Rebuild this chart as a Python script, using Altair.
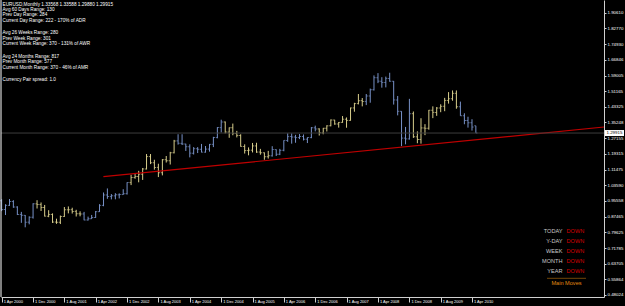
import altair as alt
import pandas as pd

# ---------------- data ----------------
months = []
for y in range(2000, 2011):
    for m in range(1, 13):
        if (y == 2000 and m < 4) or (y == 2010 and m > 5):
            continue
        months.append(f"{y}-{m:02d}-01")

opens = [0.9570,0.9125,0.9335,0.9530,0.9250,0.8875,0.8830,0.8485,0.8735,
 0.9410,0.9375,0.9230,0.8790,0.8875,0.8490,0.8480,0.8770,0.9110,0.9115,0.9030,0.8910,
 0.8900,0.8595,0.8660,0.8720,0.9015,0.9335,0.9860,0.9780,0.9815,0.9865,0.9880,0.9925,
 1.0485,1.0740,1.0790,1.0905,1.1175,1.1800,1.1490,1.1255,1.0985,1.1645,1.1590,1.1995,
 1.2595,1.2470,1.2440,1.2300,1.1975,1.2200,1.2170,1.2025,1.2180,1.2420,1.2760,1.3265,
 1.3550,1.3040,1.3255,1.2965,1.2870,1.2315,1.2105,1.2125,1.2340,1.2030,1.1995,1.1795,
 1.1840,1.2155,1.1925,1.2115,1.2620,1.2810,1.2790,1.2760,1.2815,1.2680,1.2760,1.3255,
 1.3200,1.3000,1.3230,1.3355,1.3650,1.3450,1.3530,1.3690,1.3630,1.4260,1.4480,1.4630,
 1.4590,1.4865,1.5185,1.5790,1.5615,1.5545,1.5755,1.5610,1.4665,1.4090,1.2735,1.2695,
 1.3970,1.2800,1.2665,1.3250,1.3230,1.4145,1.4035,1.4255,1.4340,1.4640,1.4725,1.5000,
 1.4320,1.3865,1.3625,1.3510,1.33568]

highs = [0.9645,0.9390,0.9655,0.9595,0.9290,0.9005,0.8845,0.8780,0.9440,
 0.9595,0.9480,0.9355,0.9090,0.8930,0.8660,0.8820,0.9250,0.9280,0.9215,0.9110,0.9035,
 0.9005,0.8765,0.8850,0.9050,0.9395,0.9985,1.0190,0.9905,0.9950,0.9940,1.0150,1.0500,
 1.0880,1.0935,1.1080,1.1225,1.1930,1.1930,1.1640,1.1440,1.1675,1.1830,1.2040,1.2645,
 1.2930,1.2930,1.2450,1.2420,1.2280,1.2280,1.2440,1.2335,1.2440,1.2800,1.3290,1.3665,
 1.3575,1.3275,1.3470,1.3100,1.2930,1.2420,1.2265,1.2490,1.2500,1.2190,1.2010,1.2090,
 1.2325,1.2165,1.2190,1.2625,1.2980,1.2975,1.2900,1.2940,1.2920,1.2775,1.3295,1.3365,
 1.3230,1.3250,1.3385,1.3680,1.3660,1.3550,1.3850,1.3780,1.4280,1.4520,1.4965,1.4760,
 1.4965,1.5240,1.5905,1.6020,1.5815,1.5845,1.6040,1.5625,1.4865,1.4095,1.3300,1.4720,
 1.4080,1.3075,1.3740,1.3440,1.4160,1.4340,1.4305,1.4445,1.4770,1.5060,1.5145,1.5145,
 1.4580,1.3990,1.3815,1.3690,1.33588]

lows = [0.9045,0.8845,0.9305,0.9210,0.8845,0.8450,0.8225,0.8375,0.8665,
 0.9175,0.9050,0.8770,0.8735,0.8445,0.8400,0.8390,0.8750,0.8930,0.8920,0.8770,0.8780,
 0.8580,0.8565,0.8645,0.8700,0.9005,0.9290,0.9665,0.9635,0.9640,0.9685,0.9870,0.9880,
 1.0360,1.0680,1.0500,1.0620,1.1150,1.1420,1.1140,1.0765,1.0850,1.1500,1.1400,1.1960,
 1.2405,1.2385,1.2085,1.1760,1.1905,1.1980,1.2010,1.2000,1.2050,1.2280,1.2725,1.3020,
 1.2975,1.2750,1.2880,1.2770,1.2300,1.1955,1.1865,1.2010,1.1990,1.1895,1.1640,1.1700,
 1.1800,1.1830,1.1875,1.2070,1.2545,1.2455,1.2500,1.2685,1.2615,1.2485,1.2730,1.3075,
 1.2865,1.2930,1.3070,1.3330,1.3410,1.3265,1.3510,1.3260,1.3615,1.4070,1.4440,1.4340,
 1.4405,1.4525,1.5140,1.5515,1.5285,1.5300,1.5585,1.4430,1.3885,1.2330,1.2420,1.2660,
 1.2745,1.2475,1.2455,1.2885,1.3160,1.3745,1.3860,1.4045,1.4095,1.4480,1.4625,1.4220,
 1.3860,1.3435,1.3265,1.3115,1.29880]

closes = [0.9125,0.9335,0.9530,0.9250,0.8875,0.8830,0.8485,0.8735,0.9410,
 0.9375,0.9230,0.8790,0.8875,0.8490,0.8480,0.8770,0.9110,0.9115,0.9030,0.8910,0.8900,
 0.8595,0.8660,0.8720,0.9015,0.9335,0.9860,0.9780,0.9815,0.9865,0.9880,0.9925,1.0485,
 1.0740,1.0790,1.0905,1.1175,1.1800,1.1490,1.1255,1.0985,1.1645,1.1590,1.1995,1.2595,
 1.2470,1.2440,1.2300,1.1975,1.2200,1.2170,1.2025,1.2180,1.2420,1.2760,1.3265,1.3550,
 1.3040,1.3255,1.2965,1.2870,1.2315,1.2105,1.2125,1.2340,1.2030,1.1995,1.1795,1.1840,
 1.2155,1.1925,1.2115,1.2620,1.2810,1.2790,1.2760,1.2815,1.2680,1.2760,1.3255,1.3200,
 1.3000,1.3230,1.3355,1.3650,1.3450,1.3530,1.3690,1.3630,1.4260,1.4480,1.4630,1.4590,
 1.4865,1.5185,1.5790,1.5615,1.5545,1.5755,1.5610,1.4665,1.4090,1.2735,1.2695,1.3970,
 1.2800,1.2665,1.3250,1.3230,1.4145,1.4035,1.4255,1.4340,1.4640,1.4725,1.5000,1.4320,
 1.3865,1.3625,1.3510,1.3295,1.29915]

price_ticks = [1.90610, 1.82770, 1.74930, 1.66846, 1.59005, 1.51165, 1.43325, 1.35248,
               1.27155, 1.19315, 1.11475, 1.03590, 0.95558, 0.87465, 0.79625, 0.71785,
               0.63705, 0.55864, 0.48024]
date_ticks = [(2000, 4), (2000, 12), (2001, 8), (2002, 4), (2002, 12), (2003, 8),
              (2004, 4), (2004, 12), (2005, 8), (2006, 4), (2006, 12), (2007, 8),
              (2008, 4), (2008, 12), (2009, 8), (2010, 4)]

trend_dates = ["2002-05-31", "2013-01-20"]
trend_prices = [1.0784, 1.3297]

current_price = [1.29915]

header_lines = ["EURUSD,Monthly  1.33568 1.33588 1.29880 1.29915",
                "Avg 60 Days Range: 130",
                "Prev Day Range: 284",
                "Current Day Range: 222 - 170% of ADR",
                "Avg 26 Weeks Range: 280",
                "Prev Week Range: 301",
                "Current Week Range: 370 - 131% of AWR",
                "Avg 24 Months Range: 817",
                "Prev Month Range: 577",
                "Current Month Range: 370 - 46% of AMR",
                "Currency Pair spread: 1.0"]
move_labels = ["TODAY", "Y-DAY", "WEEK", "MONTH", "YEAR"]
move_states = ["DOWN", "DOWN", "DOWN", "DOWN", "DOWN"]

# ---------------- build ----------------
bars = pd.DataFrame({"date": months, "open": opens, "high": highs,
                     "low": lows, "close": closes})
bars["grp"] = ["even" if int(d[:4]) % 2 == 0 else "odd" for d in months]

trend = pd.DataFrame({"date": trend_dates, "price": trend_prices})
cur = pd.DataFrame({"price": current_price})

FONT = "Liberation Sans"
BLUE = "#7892c8"
KHAKI = "#d8ce8c"

def dt(y, m, d=1):
    return alt.DateTime(year=y, month=m, date=d, utc=True)

xscale = alt.Scale(type="utc", domain=[dt(2000, 3, 27), dt(2013, 1, 20)], nice=False)
yscale = alt.Scale(domain=[0.4701, 1.9718], nice=False, zero=False)

xaxis = alt.Axis(values=[dt(y, m) for y, m in date_ticks],
                 labelExpr="utcFormat(datum.value, '%-d %b %Y')",
                 title=None, grid=False, labelAlign="left",
                 labelBaseline="middle", labelPadding=-1, labelOffset=1.5,
                 tickSize=5, tickColor="#d0d0d0", domainColor="#d0d0d0",
                 labelColor="white", labelFont=FONT, labelFontSize=4.0,
                 labelOverlap=False, labelFlush=False, labelBound=False)
yaxis = alt.Axis(orient="right", values=price_ticks,
                 labelExpr="format(datum.value, '.5f')", title=None,
                 grid=False, tickSize=2, labelPadding=1, tickColor="#d0d0d0",
                 domainColor="#d0d0d0", labelColor="white", labelFont=FONT,
                 labelFontSize=4.4, labelOverlap=False, labelFlush=False,
                 labelBound=False)

color = alt.Color("grp:N", scale=alt.Scale(domain=["even", "odd"], range=[BLUE, KHAKI]),
                  legend=None)

def X(field):
    return alt.X(field, scale=xscale, axis=xaxis)

def Y(field):
    return alt.Y(field, scale=yscale, axis=yaxis)

hl = alt.Chart(bars).mark_rule(strokeWidth=1).encode(
    x=X("date:T"), y=Y("low:Q"), y2="high:Q", color=color)
op = alt.Chart(bars).mark_tick(orient="horizontal", size=1.6, thickness=1, xOffset=-0.8).encode(
    x=X("date:T"), y=Y("open:Q"), color=color)
cl = alt.Chart(bars).mark_tick(orient="horizontal", size=1.6, thickness=1, xOffset=0.8).encode(
    x=X("date:T"), y=Y("close:Q"), color=color)

trend_line = alt.Chart(trend).mark_line(color="#c00000", strokeWidth=1.2).encode(
    x=X("date:T"), y=Y("price:Q"))

cur_line = alt.Chart(cur).mark_rule(color="#3c3c3c", strokeWidth=1).encode(
    y=Y("price:Q"))
cur_box = alt.Chart(cur).mark_rect(color="white", yOffset=-3, y2Offset=3).encode(
    x=alt.value(604), x2=alt.value(623), y=Y("price:Q"), y2="price:Q")
cur_txt = alt.Chart(cur).mark_text(color="black", align="left", baseline="middle",
                                   font=FONT, fontSize=4.4).encode(
    x=alt.value(605.5), y=Y("price:Q"), text=alt.Text("price:Q", format=".5f"))

left_border = alt.Chart(cur).mark_rule(color="white", strokeWidth=1).encode(
    x=alt.value(0), y=alt.value(0), y2=alt.value(297))

layers = [hl, op, cl, trend_line, cur_line, left_border, cur_box, cur_txt]

header_y = [5, 10, 15.3, 20.8, 33.3, 38.7, 44.2, 56.7, 62, 67.6, 80]
for line, yy in zip(header_lines, header_y):
    layers.append(alt.Chart(cur).mark_text(align="left", baseline="middle", color="white",
                                            font=FONT, fontSize=4.7).encode(
        x=alt.value(1.5), y=alt.value(yy), text=alt.value(line)))

panel_y = [231, 241, 251, 261, 271]
for lab, st, yy in zip(move_labels, move_states, panel_y):
    layers.append(alt.Chart(cur).mark_text(align="right", baseline="middle", color="#c8c8c8",
                                            font=FONT, fontSize=5.6).encode(
        x=alt.value(561.5), y=alt.value(yy), text=alt.value(lab)))
    layers.append(alt.Chart(cur).mark_text(align="left", baseline="middle", color="#d40000",
                                            font=FONT, fontSize=5.6).encode(
        x=alt.value(565.5), y=alt.value(yy), text=alt.value(st)))

layers.append(alt.Chart(cur).mark_rule(color="#e08a10", strokeDash=[1, 1], strokeWidth=1).encode(
    x=alt.value(546.5), x2=alt.value(585), y=alt.value(278.3)))
layers.append(alt.Chart(cur).mark_text(align="center", baseline="middle", color="#e08a10",
                                        font=FONT, fontSize=5.6).encode(
    x=alt.value(565.5), y=alt.value(282.6), text=alt.value("Main Moves")))

chart = alt.layer(*layers).properties(
    width=603, height=297,
    autosize=alt.AutoSizeParams(type="none"),
    padding={"left": 1, "top": 0, "right": 21, "bottom": 9},
    background="black",
).configure_view(fill="black", stroke=None)

chart.save("out.html", embed_options={"renderer": "svg", "actions": False})
